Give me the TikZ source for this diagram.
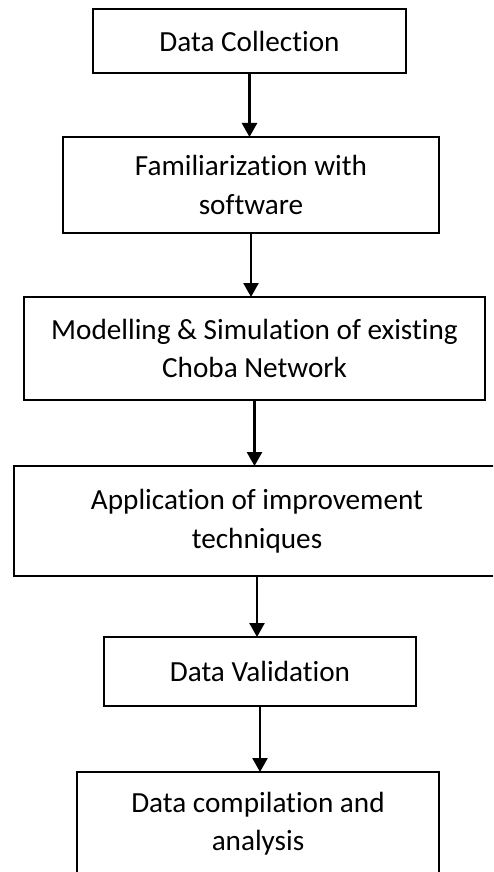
\documentclass[tikz,border=0pt]{standalone}
\usepackage{fontspec}
\setmainfont{Carlito}[Ligatures=NoCommon]
\usepackage{tikz}
\usetikzlibrary{positioning,arrows.meta}

\begin{document}
\begin{tikzpicture}[
  node distance=64pt,
  box/.style={draw, line width=2.5pt, outer sep=0pt, align=center, font=\fontsize{29.2}{38.5}\selectfont, inner sep=0pt},
  arr/.style={-{Triangle[length=14pt, width=15pt]}, line width=2.5pt}
]
\useasboundingbox (0,0) rectangle (493pt,-872pt);
\clip (0,0) rectangle (493pt,-872pt);

\node[box, minimum width=313pt, minimum height=64pt] (collect) at (249.5pt,-41pt) {Data Collection};
\node[box, minimum width=376pt, minimum height=96pt, below=64pt of collect, xshift=1.5pt] (familiar) {Familiarization with\\software};
\node[box, minimum width=461pt, minimum height=103pt, below=64pt of familiar, xshift=3.5pt] (model) {Modelling \& Simulation of existing\\Choba Network};
\node[box, minimum width=486pt, minimum height=110pt, below=66pt of model, xshift=2.5pt] (improve) {Application of improvement\\techniques};
\node[box, minimum width=312pt, minimum height=69pt, below=61pt of improve, xshift=3pt] (valid) {Data Validation};
\node[box, minimum width=362pt, minimum height=103pt, below=66pt of valid, xshift=-2pt] (compile) {Data compilation and\\analysis};

\draw[arr] (collect.south) -- (collect.south |- familiar.north);
\draw[arr] (familiar.south) -- (familiar.south |- model.north);
\draw[arr] (model.south) -- (model.south |- improve.north);
\draw[arr] (improve.south) -- (improve.south |- valid.north);
\draw[arr] (valid.south) -- (valid.south |- compile.north);

\end{tikzpicture}
\end{document}
